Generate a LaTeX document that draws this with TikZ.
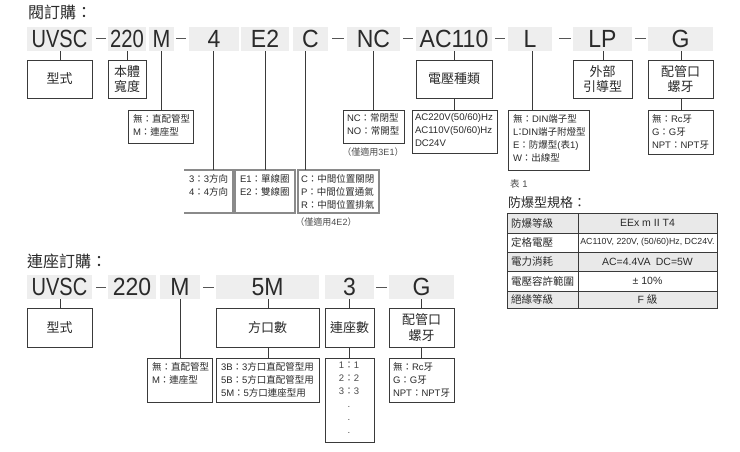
\documentclass[tikz,border=0pt]{standalone}
\usepackage{fontspec}
\setmainfont{Liberation Sans}
\newfontfamily\cjk{Noto Sans CJK TC}
\newcommand{\C}[1]{{\cjk #1}}
\newcommand{\cd}[2][1]{\scalebox{#1}[1.08]{#2}}
\definecolor{ink}{HTML}{2A2A2A}
\definecolor{gfill}{HTML}{EEEEEE}
\definecolor{rule}{HTML}{3A3A3A}
\definecolor{soft}{HTML}{8A8A8A}
\definecolor{rowg}{HTML}{E9E9E9}
\tikzset{
  anybox/.style={inner sep=0pt,outer sep=0pt,text=ink,align=center},
  codebox/.style={anybox,fill=gfill,font=\fontsize{23}{23}\selectfont},
  namebox/.style={anybox,draw=rule,line width=0.9pt,font=\fontsize{13}{15.5}\selectfont},
  listbox/.style={anybox,draw=rule,line width=0.9pt},
  softbox/.style={anybox},
  softedge/.style={draw=soft,line width=1.1pt},
  listtext/.style={inner sep=0pt,outer sep=0pt,text=ink,align=left,anchor=north west,font=\fontsize{9.5}{13}\selectfont},
  conn/.style={draw=rule,line width=0.9pt},
  sep/.style={draw=ink!80,line width=0.8pt},
  note/.style={inner sep=0pt,text=ink!85,font=\fontsize{9}{11}\selectfont},
  title/.style={inner sep=0pt,anchor=west,text=ink,font=\fontsize{16}{16}\selectfont},
  cell/.style={anybox,draw=rule,line width=0.9pt,font=\fontsize{10.5}{12}\selectfont},
  leftcell/.style={cell,text width=63pt,align=left},
}
% #1 style, #2 name, #3 x1, #4 y1, #5 x2, #6 y2, #7 text
\newcommand{\bx}[7]{\node[#1,minimum width={(#5-#3)*1pt},minimum height={(#6-#4)*1pt}] (#2) at ({(#3+#5)/2},{(#4+#6)/2}) {#7};}
% #1 style, #2 name, #3 x1, #4 y1, #5 x2, #6 y2, #7 text x, #8 text
\newcommand{\lbx}[8]{\bx{#1}{#2}{#3}{#4}{#5}{#6}{}\node[listtext] (#2t) at (#7,{#4+4}) {#8};}
% #1 upper node, #2 lower node, #3 x
\newcommand{\lnk}[3]{\coordinate (x#1#2) at (#3,0);\draw[conn] (#1.south -| x#1#2) -- (#2.north -| x#1#2);}
\begin{document}
\begin{tikzpicture}[x=1pt,y=-1pt]
\useasboundingbox (0,0) rectangle (740,451);
\fill[white] (0,0) rectangle (740,451);

\node[title] (t1) at (28,12) {\C{閥訂購：}};

% first row codes
\bx{codebox}{aU}{27}{27}{92}{51}{\cd[0.87]{UVSC}}
\bx{codebox}{a220}{108}{27}{146}{51}{\cd[0.88]{220}}
\bx{codebox}{aM}{149}{27}{174}{51}{\cd[0.93]{M}}
\bx{codebox}{a4}{189}{27}{239}{51}{\cd{4}}
\bx{codebox}{aE}{241}{27}{289}{51}{\cd{E2}}
\bx{codebox}{aC}{293}{27}{328}{51}{\cd{C}}
\bx{codebox}{aN}{347}{27}{400}{51}{\cd{NC}}
\bx{codebox}{aA}{416}{27}{492}{51}{\cd{AC110}}
\bx{codebox}{aL}{508}{27}{552}{51}{\cd{L}}
\bx{codebox}{aP}{573}{27}{632}{51}{\cd{LP}}
\bx{codebox}{aG}{648}{27}{713}{51}{\cd{G}}
\draw[sep] (96,38.5) -- (106,38.5);
\draw[sep] (176,38.5) -- (186,38.5);
\draw[sep] (332,38.5) -- (344,38.5);
\draw[sep] (403,38.5) -- (413,38.5);
\draw[sep] (495,38.5) -- (505,38.5);
\draw[sep] (559,38.5) -- (571,38.5);
\draw[sep] (635,38.5) -- (646,38.5);

% first row name boxes
\bx{namebox}{nU}{27}{60}{92}{98}{\C{型式}}
\bx{namebox}{n220}{108}{60}{146}{98}{\C{本體}\\\C{寬度}}
\bx{namebox}{nA}{416}{60}{492}{98}{\C{電壓種類}}
\bx{namebox}{nP}{573}{60}{632}{98}{\C{外部}\\\C{引導型}}
\bx{namebox}{nG}{648}{60}{713}{98}{\C{配管口}\\\C{螺牙}}

% first row lists
\lbx{listbox}{lM}{128}{110}{193}{143}{133}{\C{無：直配管型}\\M\C{：連座型}}
\lbx{softbox}{l4}{184}{170}{233}{213}{189}{3\C{：}3\C{方向}\\4\C{：}4\C{方向}}
\draw[softedge] (l4.north west) -- (l4.north east) -- (l4.south east) -- (l4.south west);
\lbx{softbox}{lE}{235}{170}{295}{213}{240}{E1\C{：單線圈}\\E2\C{：雙線圈}}
\draw[softedge] (lE.south west) rectangle (lE.north east);
\lbx{softbox}{lC}{298}{170}{379}{213}{301}{C\C{：中間位置關閉}\\P\C{：中間位置通氣}\\R\C{：中間位置排氣}}
\draw[softedge] (lC.south west) rectangle (lC.north east);
\lbx{listbox}{lN}{343}{110}{404}{143}{347}{NC\C{：常閉型}\\NO\C{：常開型}}
\lbx{listbox}{lA}{412}{110}{497}{153}{415}{{\fontsize{9.6}{13}\selectfont AC220V(50/60)Hz}\\{\fontsize{9.6}{13}\selectfont AC110V(50/60)Hz}\\{\fontsize{9.6}{13}\selectfont DC24V}}
\lbx{listbox}{lL}{508}{110}{589}{170}{513}{\C{無：}DIN\C{端子型}\\L\hspace{-3pt}\C{：}\hspace{-3pt}DIN\C{端子附燈型}\\E\C{：防爆型}(\C{表}1)\\W\C{：出線型}}
\lbx{listbox}{lG}{648}{110}{713}{154}{652}{\C{無：}Rc\C{牙}\\G\C{：}G\C{牙}\\NPT\C{：}NPT\C{牙}}
\node[note] (nN) at (373,152) {\C{（僅適用}3E1\C{）}};
\node[note] (nC) at (326,222) {\C{（僅適用}4E2\C{）}};

\lnk{aU}{nU}{60}
\lnk{a220}{n220}{127}
\lnk{aM}{lM}{161}
\lnk{a4}{l4}{213.5}
\lnk{aE}{lE}{265}
\lnk{aC}{lC}{305.5}
\lnk{aN}{lN}{373}
\lnk{aA}{nA}{454}
\lnk{nA}{lA}{454}
\lnk{aL}{lL}{532}
\lnk{aP}{nP}{603}
\lnk{aG}{nG}{681}
\lnk{nG}{lG}{681}

% table
\node[inner sep=0pt,anchor=west,text=ink!85,font=\fontsize{9.5}{11}\selectfont] (t1note) at (510,184) {\C{表} 1};
\node[inner sep=0pt,anchor=west,text=ink,font=\fontsize{13}{14}\selectfont] (t3) at (508,203) {\C{防爆型規格：}};
\bx{leftcell,fill=rowg}{c1a}{507}{213}{578}{233}{\C{防爆等級}}
\bx{cell,fill=rowg}{c1b}{578}{213}{717}{233}{EEx m II T4}
\bx{leftcell}{c2a}{507}{233}{578}{252}{\C{定格電壓}}
\bx{cell,font=\fontsize{8.8}{10}\selectfont}{c2b}{578}{233}{717}{252}{AC110V, 220V, (50/60)Hz, DC24V.}
\bx{leftcell,fill=rowg}{c3a}{507}{252}{578}{271}{\C{電力消耗}}
\bx{cell,fill=rowg}{c3b}{578}{252}{717}{271}{AC=4.4VA\enspace DC=5W}
\bx{leftcell}{c4a}{507}{271}{578}{291}{\C{電壓容許範圍}}
\bx{cell}{c4b}{578}{271}{717}{291}{± 10\%}
\bx{leftcell,fill=rowg}{c5a}{507}{291}{578}{308}{\C{絕緣等級}}
\bx{cell,fill=rowg}{c5b}{578}{291}{717}{308}{F \C{級}}

% second order
\node[title] (t2) at (27,261) {\C{連座訂購：}};
\bx{codebox}{bU}{27}{275}{92}{299}{\cd[0.87]{UVSC}}
\bx{codebox}{b220}{108}{275}{156}{299}{\cd{220}}
\bx{codebox}{bM}{160}{275}{200}{299}{\cd{M}}
\bx{codebox}{b5}{216}{275}{319}{299}{\cd{5M}}
\bx{codebox}{b3}{325}{275}{374}{299}{\cd{3}}
\bx{codebox}{bG}{389}{275}{454}{299}{\cd{G}}
\draw[sep] (96,287) -- (106,287);
\draw[sep] (203,287) -- (214,287);
\draw[sep] (376,287) -- (387,287);

\bx{namebox}{mU}{27}{308}{92}{347}{\C{型式}}
\bx{namebox}{m5}{216}{308}{319}{347}{\C{方口數}}
\bx{namebox}{m3}{325}{308}{374}{347}{\C{連座數}}
\bx{namebox}{mG}{389}{308}{454}{347}{\C{配管口}\\\C{螺牙}}

\lbx{listbox}{kM}{147.5}{358}{212.5}{402}{152}{\C{無：直配管型}\\M\C{：連座型}}
\lbx{listbox}{k5}{216}{358}{319}{402}{221}{3B\C{：}3\C{方口直配管型用}\\5B\C{：}5\C{方口直配管型用}\\5M\C{：}5\C{方口連座型用}}
\bx{listbox}{k3}{325}{358}{374}{442}{}
\node[note,align=center,font=\fontsize{9.5}{13}\selectfont,anchor=north] (k3t) at (349,362) {1\C{：}1\\2\C{：}2\\3\C{：}3\\.\\.\\.};
\lbx{listbox}{kG}{389}{358}{454}{402}{393}{\C{無：}Rc\C{牙}\\G\C{：}G\C{牙}\\NPT\C{：}NPT\C{牙}}

\lnk{bU}{mU}{60}
\lnk{bM}{kM}{180}
\lnk{b5}{m5}{268}
\lnk{m5}{k5}{268}
\lnk{b3}{m3}{349}
\lnk{m3}{k3}{349}
\lnk{bG}{mG}{421.5}
\lnk{mG}{kG}{421.5}
\end{tikzpicture}
\end{document}
